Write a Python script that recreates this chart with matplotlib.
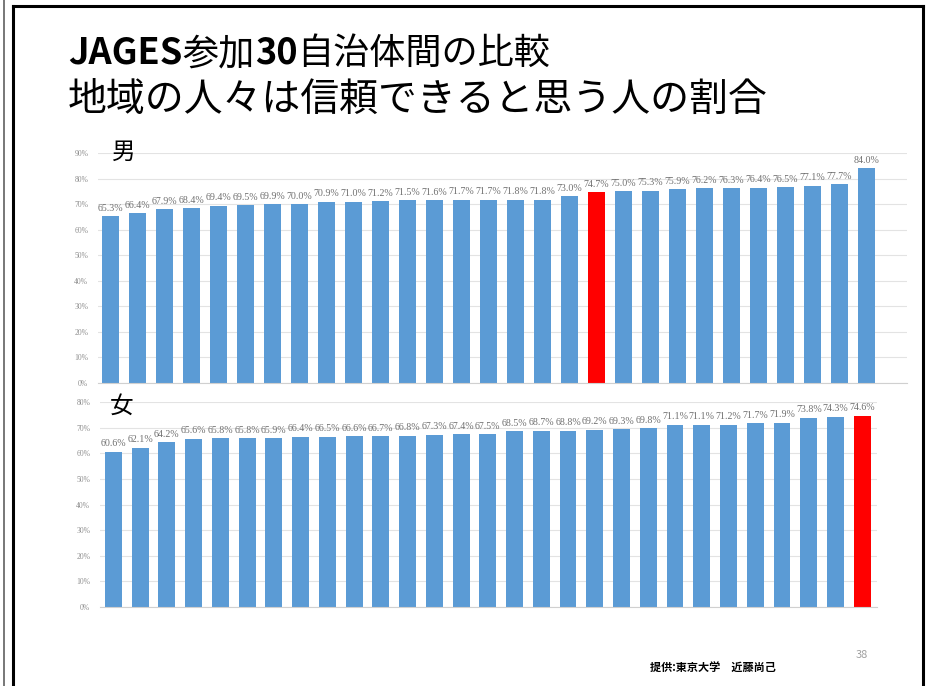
"""
JAGES参加30自治体間の比較 - 地域の人々は信頼できると思う人の割合
"""

import matplotlib
matplotlib.use('Agg')
import matplotlib.pyplot as plt
from matplotlib.lines import Line2D

plt.rcParams['font.family'] = ['Noto Sans CJK JP', 'DejaVu Sans']

# Datos (%)
hombres = [65.3, 66.4, 67.9, 68.4, 69.4, 69.5, 69.9, 70.0, 70.9, 71.0,
           71.2, 71.5, 71.6, 71.7, 71.7, 71.8, 71.8, 73.0, 74.7, 75.0,
           75.3, 75.9, 76.2, 76.3, 76.4, 76.5, 77.1, 77.7, 84.0]
mujeres = [60.6, 62.1, 64.2, 65.6, 65.8, 65.8, 65.9, 66.4, 66.5, 66.6,
           66.7, 66.8, 67.3, 67.4, 67.5, 68.5, 68.7, 68.8, 69.2, 69.3,
           69.8, 71.1, 71.1, 71.2, 71.7, 71.9, 73.8, 74.3, 74.6]
idx_rojo_h = 18
idx_rojo_m = 28
ticks_h = list(range(0, 91, 10))
ticks_m = list(range(0, 81, 10))

AZUL = '#5B9BD5'
ROJO = '#FF0000'
W, H = 926, 686


def px_axes(fig, x0, y0, x1, y1):
    """Crea ejes a partir de coordenadas en pixeles (origen arriba-izquierda)"""
    return fig.add_axes([x0 / W, 1 - y1 / H, (x1 - x0) / W, (y1 - y0) / H])


def dibujar(ax, valores, idx_rojo, ticks, xlim):
    colores = [ROJO if i == idx_rojo else AZUL for i in range(len(valores))]
    xs = list(range(len(valores)))
    ax.bar(xs, valores, width=0.63, color=colores, zorder=2)
    for x, v in zip(xs, valores):
        ax.annotate(f'{v:.1f}%', (x, v), xytext=(0, 2.5), textcoords='offset points',
                    ha='center', va='bottom', fontsize=7.2, color='#707070',
                    family='Liberation Serif')
    ax.set_ylim(0, ticks[-1])
    ax.set_xlim(*xlim)
    ax.set_yticks(ticks)
    ax.set_yticklabels([f'{t}%' for t in ticks], family='Liberation Serif',
                       fontsize=5.5, color='#909090')
    ax.tick_params(axis='y', length=0, pad=7)
    ax.set_xticks([])
    ax.grid(axis='y', color='#E3E3E3', linewidth=0.8, zorder=0)
    for s in ['top', 'right', 'left']:
        ax.spines[s].set_visible(False)
    ax.spines['bottom'].set_color('#D0D0D0')
    ax.spines['bottom'].set_linewidth(0.8)


fig = plt.figure(figsize=(W / 100, H / 100), dpi=100)

ax_h = px_axes(fig, 98, 153, 907, 383)
dibujar(ax_h, hombres, idx_rojo_h, ticks_h, (-0.45, 29.5))

ax_m = px_axes(fig, 100, 402, 877, 607)
dibujar(ax_m, mujeres, idx_rojo_m, ticks_m, (-0.5, 28.55))

fig.text(112 / W, 1 - 152 / H, '男', fontsize=17, va='center', ha='left')
fig.text(110 / W, 1 - 406 / H, '女', fontsize=17, va='center', ha='left')

# Titulo linea 1 con partes en negrita
fig.canvas.draw()
renderer = fig.canvas.get_renderer()
x = 68
partes = [('JAGES', 'bold'), ('参加', 'normal'), ('30', 'bold'), ('自治体間の比較', 'normal')]
for texto, peso in partes:
    t = fig.text(x / W, 1 - 64 / H, texto, fontsize=26, fontweight=peso,
                 va='baseline', ha='left')
    bb = t.get_window_extent(renderer)
    x += bb.width

fig.text(68 / W, 1 - 100 / H, '地域の人々は信頼できると思う人の割合', fontsize=28,
         va='center', ha='left')

fig.text(650 / W, 1 - 668 / H, '提供:東京大学　近藤尚己', fontsize=8, fontweight='bold',
         va='center', ha='left')
fig.text(856 / W, 1 - 655 / H, '38', fontsize=8, color='#A0A0A0', va='center', ha='left')

# Bordes de la diapositiva
lineas = [
    ([4, 4], [0, H], '#606060', 1.2),
    ([12.5, 12.5], [6, H], 'black', 2.2),
    ([12.5, 923], [6, 6], 'black', 2.2),
    ([923, 923], [6, H], 'black', 2.2),
]
for xs, ys, c, lw in lineas:
    fig.add_artist(Line2D([v / W for v in xs], [1 - v / H for v in ys],
                          color=c, linewidth=lw, transform=fig.transFigure))

plt.savefig('out.png', dpi=100)
plt.close()
